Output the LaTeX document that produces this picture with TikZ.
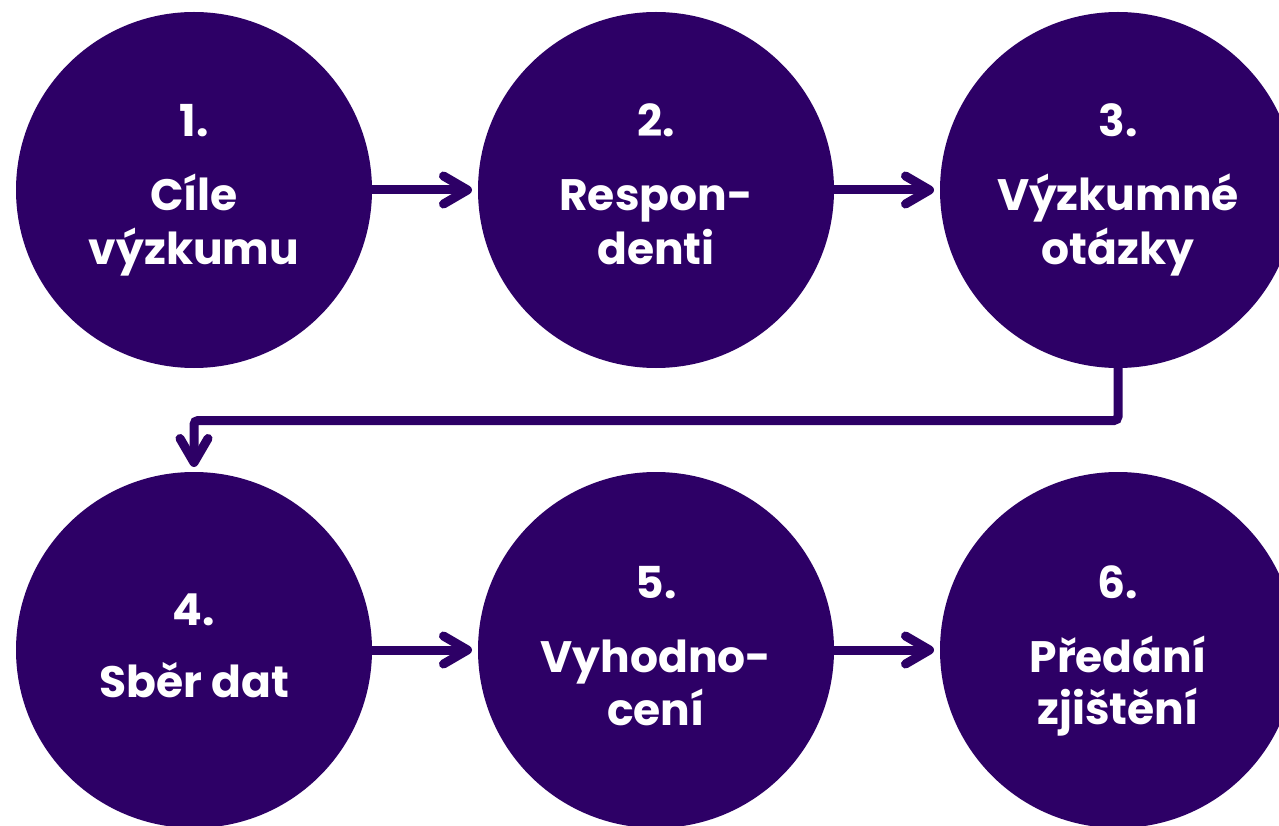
\documentclass[tikz,border=0pt]{standalone}
\usepackage{fontspec}
\setmainfont{Poppins}
\usetikzlibrary{arrows.meta,calc}
\definecolor{deep}{RGB}{45,0,102}
\begin{document}
\begin{tikzpicture}[x=1pt,y=-1pt,
  stage/.style={circle,fill=deep,minimum size=356pt,inner sep=0pt,outer sep=0pt},
  lbl/.style={anchor=base,text=white,font=\fontsize{44}{44}\selectfont\bfseries,inner sep=0pt},
  conn/.style={draw=deep,line width=9pt,-{Straight Barb[length=24pt,width=28pt,round]}}
]
\path[use as bounding box] (0,0) rectangle (1279,826);
\clip (0,0) rectangle (1279,826);
\node[stage] (c1) at (194,190) {};
\node[stage] (c2) at (656,190) {};
\node[stage] (c3) at (1118,190) {};
\node[stage] (c4) at (194,650) {};
\node[stage] (c5) at (656,650) {};
\node[stage] (c6) at (1118,650) {};

\node[lbl] (t1a) at ($(c1)+(0,-53)$) {1.};
\node[lbl] (t1b) at ($(c1)+(0,21)$) {Cíle};
\node[lbl] (t1c) at ($(c1)+(0,75)$) {výzkumu};

\node[lbl] (t2a) at ($(c2)+(0,-53)$) {2.};
\node[lbl] (t2b) at ($(c2)+(0,21)$) {Respon-};
\node[lbl] (t2c) at ($(c2)+(0,75)$) {denti};

\node[lbl] (t3a) at ($(c3)+(0,-53)$) {3.};
\node[lbl] (t3b) at ($(c3)+(0,21)$) {Výzkumné};
\node[lbl] (t3c) at ($(c3)+(0,75)$) {otázky};

\node[lbl] (t4a) at ($(c4)+(0,-25)$) {4.};
\node[lbl] (t4b) at ($(c4)+(0,47)$) {Sběr dat};

\node[lbl] (t5a) at ($(c5)+(0,-52)$) {5.};
\node[lbl] (t5b) at ($(c5)+(0,22)$) {Vyhodno-};
\node[lbl] (t5c) at ($(c5)+(0,75)$) {cení};

\node[lbl] (t6a) at ($(c6)+(0,-52)$) {6.};
\node[lbl] (t6b) at ($(c6)+(0,22)$) {Předání};
\node[lbl] (t6c) at ($(c6)+(0,74)$) {zjištění};

\draw[conn,shorten >=6pt] (c1.east) -- (c2.west);
\draw[conn,shorten >=6pt] (c2.east) -- (c3.west);
\draw[conn,shorten >=6pt] (c4.east) -- (c5.west);
\draw[conn,shorten >=6pt] (c5.east) -- (c6.west);
\draw[conn,shorten >=5pt,rounded corners=4pt] (c3.south) -- ++(0,52.5) -| (c4.north);
\end{tikzpicture}
\end{document}
